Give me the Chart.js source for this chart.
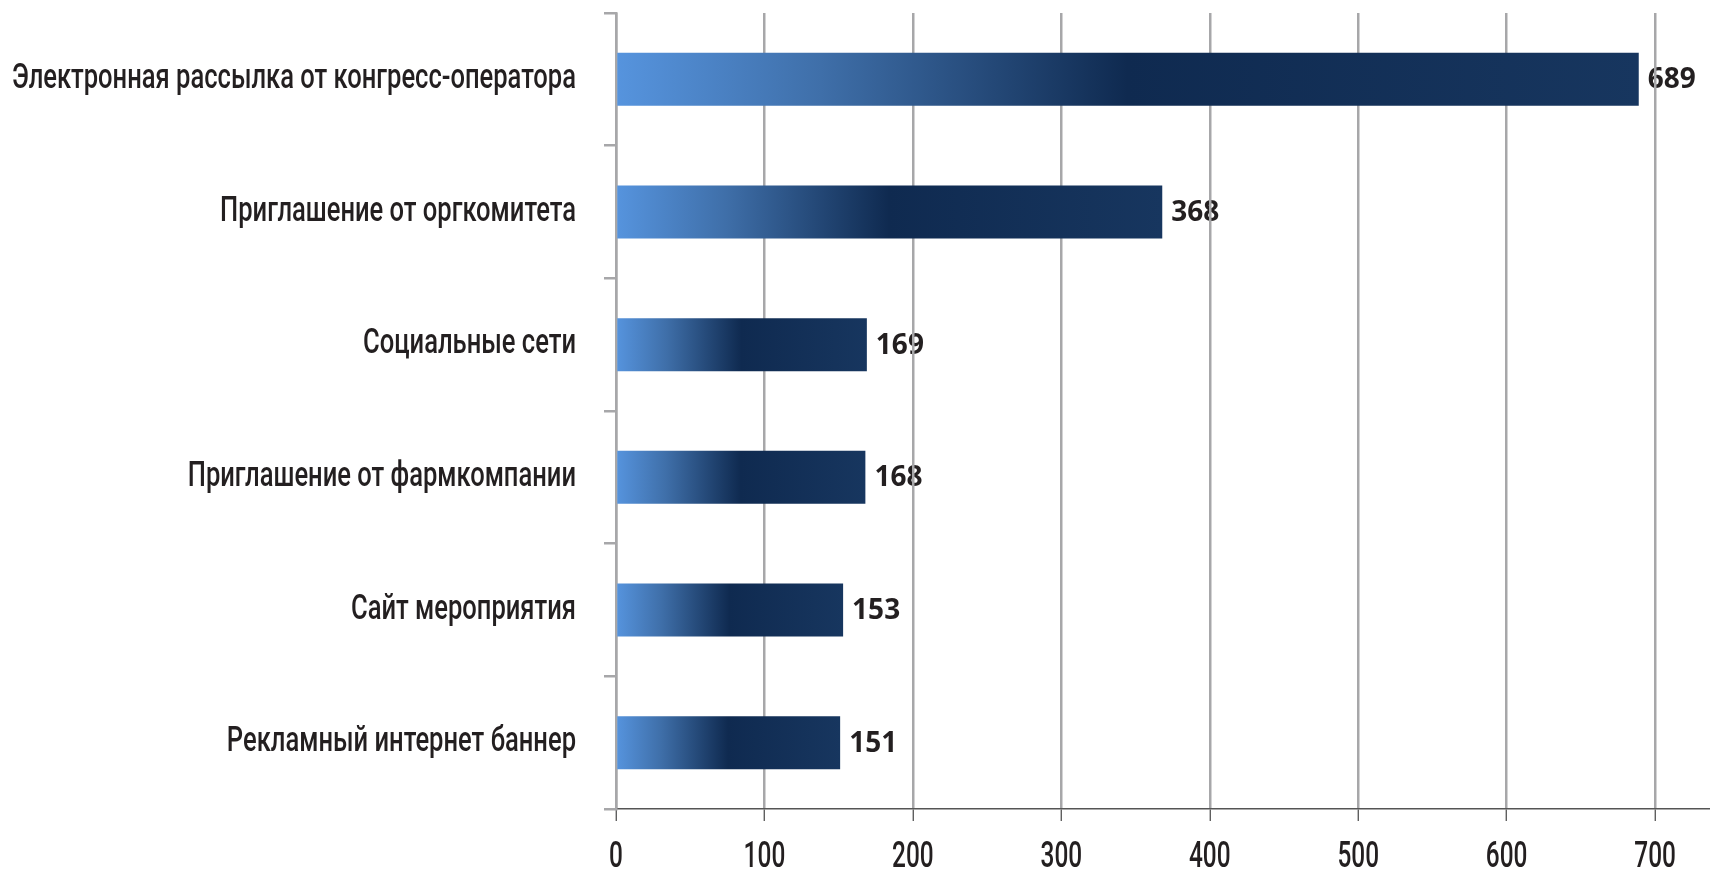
<!DOCTYPE html>
<html>
<head>
<meta charset="utf-8">
<script src="https://cdn.jsdelivr.net/npm/chart.js@4/dist/chart.umd.min.js"></script>
<style>
  html, body { margin: 0; padding: 0; background: #fff; }
  #wrap { width: 1710px; height: 871px; }
</style>
</head>
<body>
<div id="wrap"><canvas id="sourcesChart"></canvas></div>
<script>
const categories = [
    "Электронная рассылка от конгресс-оператора",
    "Приглашение от оргкомитета",
    "Социальные сети",
    "Приглашение от фармкомпании",
    "Сайт мероприятия",
    "Рекламный интернет баннер"
];
const responses = [689, 368, 169, 168, 153, 151];
const xTicks = [0, 100, 200, 300, 400, 500, 600, 700];

// gradient along each bar: light blue -> navy in the middle -> slightly lighter navy
function barFill(context) {
    const chart = context.chart;
    const x = chart.scales.x;
    if (!x || !chart.chartArea) return "#16345e";
    const x0 = x.getPixelForValue(0);
    const x1 = x.getPixelForValue(context.raw);
    const g = chart.ctx.createLinearGradient(x0, 0, x1, 0);
    g.addColorStop(0, "#5694de");
    g.addColorStop(0.2, "#3f6fa9");
    g.addColorStop(0.5, "#0f2a50");
    g.addColorStop(1, "#17365f");
    return g;
}

// the original uses a narrow DIN-like face; squeeze the axis labels horizontally
function narrowLabels(scale, factor) {
    if (scale._narrowed) return;
    const orig = scale.drawLabels;
    scale.drawLabels = function(area) {
        const ctx = this.ctx;
        const fill = ctx.fillText;
        ctx.fillText = function(t, x, y) {
            ctx.save();
            ctx.translate(x, y);
            ctx.scale(factor, 1);
            fill.call(ctx, t, 0, 0);
            ctx.restore();
        };
        orig.call(this, area);
        ctx.fillText = fill;
    };
    scale._narrowed = true;
}

const narrowAxes = {
    id: "narrowAxes",
    afterLayout(chart) {
        narrowLabels(chart.scales.y, 0.73);
        narrowLabels(chart.scales.x, 0.66);
    }
};

// value labels go under the grid lines, as in the original
const valueLabels = {
    id: "valueLabels",
    beforeDraw(chart) {
        const ctx = chart.ctx;
        const meta = chart.getDatasetMeta(0);
        ctx.save();
        ctx.font = "bold 28px 'Open Sans', sans-serif";
        ctx.fillStyle = "#231f20";
        ctx.textAlign = "left";
        ctx.textBaseline = "middle";
        meta.data.forEach((bar, i) => {
            ctx.fillText(responses[i], bar.x + 9, bar.y + 1);
        });
        ctx.restore();
    }
};

document.addEventListener("DOMContentLoaded", function() {
    const ctx = document.getElementById("sourcesChart").getContext("2d");
    new Chart(ctx, {
        type: "bar",
        data: {
            labels: categories,
            datasets: [{
                data: responses,
                backgroundColor: barFill,
                barPercentage: 0.4,
                categoryPercentage: 1
            }]
        },
        options: {
            indexAxis: "y",
            responsive: true,
            maintainAspectRatio: false,
            animation: false,
            layout: { padding: { top: 13, right: 0, bottom: 0, left: 0 } },
            plugins: {
                legend: { display: false },
                tooltip: { enabled: false }
            },
            scales: {
                x: {
                    min: 0,
                    max: 737,
                    afterBuildTicks(axis) {
                        axis.ticks = xTicks.map(v => ({ value: v }));
                    },
                    afterFit(axis) {
                        axis.height = 62;
                    },
                    border: { color: "#555", width: 1.5 },
                    grid: {
                        color: "#a7a7a9",
                        lineWidth: 2.5,
                        tickColor: "#444",
                        tickWidth: 1.2,
                        tickLength: 12
                    },
                    ticks: {
                        color: "#231f20",
                        padding: 18,
                        font: { family: "Roboto, sans-serif", size: 37, weight: 500, lineHeight: 1 }
                    }
                },
                y: {
                    afterFit(axis) {
                        axis.width = 616;
                        axis.paddingTop = 0;
                        axis.paddingBottom = 0;
                    },
                    border: { color: "#a7a7a9", width: 2.5 },
                    grid: {
                        offset: true,
                        drawOnChartArea: false,
                        color: "#a7a7a9",
                        lineWidth: 2.5,
                        tickLength: 12
                    },
                    ticks: {
                        color: "#231f20",
                        padding: 28,
                        font: { family: "Roboto, sans-serif", size: 35, weight: 500 }
                    }
                }
            }
        },
        plugins: [narrowAxes, valueLabels]
    });
});
</script>
</body>
</html>
